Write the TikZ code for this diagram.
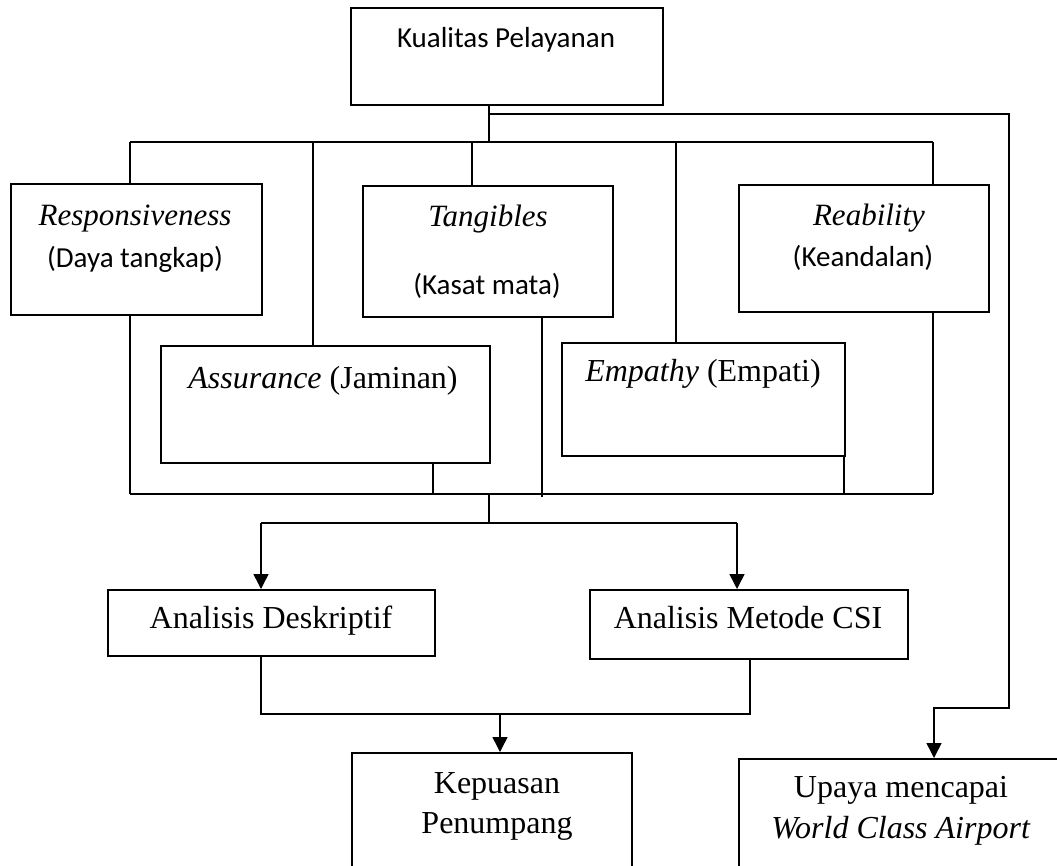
\documentclass[tikz,border=0pt]{standalone}
\usepackage{fontspec}
\setmainfont{Liberation Serif}
\newfontfamily\calibri{Carlito}
\usetikzlibrary{arrows.meta}
\usetikzlibrary{positioning}
\usetikzlibrary{calc}

\begin{document}
\begin{tikzpicture}[x=1pt, y=-1pt,
    box/.style={rectangle, draw, line width=1.5pt, anchor=north west, inner sep=0pt},
    line/.style={line width=1.5pt},
    arrow/.style={line width=1.5pt, -{Triangle[width=15pt,length=15pt]}},
    serif/.style={anchor=base, inner sep=0pt, font=\fontsize{32}{40}\selectfont},
    sans/.style={anchor=base, inner sep=0pt, font=\calibri\fontsize{29}{35}\selectfont},
    isans/.style={anchor=base, inner sep=0pt, font=\fontsize{31}{37}\selectfont\itshape},
    ]
    \useasboundingbox (0,0) rectangle (1057,865);
    \clip (0,0) rectangle (1057,865);

    % Top box
    \node [box, minimum width=312pt, minimum height=97pt] (kp) at (350,7) {};
    \node [sans] (kp-t) at (506,47) {Kualitas Pelayanan};

    % Dimension boxes
    \node [box, minimum width=251pt, minimum height=131pt] (resp) at (10,183) {};
    \node [isans] (resp-a) at (135,225) {Responsiveness};
    \node [sans] (resp-b) at (135,267) {(Daya tangkap)};

    \node [box, minimum width=250pt, minimum height=131pt] (tang) at (362,185) {};
    \node [isans] (tang-a) at (488,226) {Tangibles};
    \node [sans] (tang-b) at (487,294) {(Kasat mata)};

    \node [box, minimum width=250pt, minimum height=127pt] (reab) at (738,184) {};
    \node [isans] (reab-a) at (869,225) {Reability};
    \node [sans] (reab-b) at (863,266) {(Keandalan)};

    \node [box, minimum width=329pt, minimum height=117pt] (assu) at (160,345) {};
    \node [serif] (assu-t) at (323,388) {\textit{Assurance} (Jaminan)};

    \node [box, minimum width=283pt, minimum height=113pt] (emp) at (561,342) {};
    \node [serif] (emp-t) at (703,381) {\textit{Empathy} (Empati)};

    % Analysis boxes
    \node [box, minimum width=327pt, minimum height=66pt] (desk) at (107,589) {};
    \node [serif] (desk-t) at (271,628) {Analisis Deskriptif};

    \node [box, minimum width=318pt, minimum height=69pt] (csi) at (589,589) {};
    \node [serif] (csi-t) at (748,628) {Analisis Metode CSI};

    % Result boxes (cut off at the bottom)
    \node [box, minimum width=280pt, minimum height=160pt] (kep) at (351,752) {};
    \node [serif] (kep-a) at (497,793) {Kepuasan};
    \node [serif] (kep-b) at (497,833) {Penumpang};

    \node [box, minimum width=360pt, minimum height=160pt] (upa) at (738,758) {};
    \node [serif] (upa-a) at (901,797) {Upaya mencapai};
    \node [serif] (upa-b) at (901,838) {\textit{World Class Airport}};

    % Top bus
    \coordinate (hub) at (489,143);
    \coordinate (t1) at (130,142);
    \coordinate (t2) at (313,142);
    \coordinate (t3) at (472,142);
    \coordinate (t4) at (676,142);
    \coordinate (t5) at (933,142);
    \draw [line] (kp.south -| hub) -- (hub);
    \draw [line] (t1) -- (t5);
    \draw [line] (t1) -- (t1 |- resp.north);
    \draw [line] (t2) -- (t2 |- assu.north);
    \draw [line] (t3) -- (t3 |- tang.north);
    \draw [line] (t4) -- (t4 |- emp.north);
    \draw [line] (t5) -- (t5 |- reab.north);

    % Bottom bus
    \coordinate (b1) at (130,494);
    \coordinate (b2) at (433,494);
    \coordinate (b3) at (542,497);
    \coordinate (b4) at (844,494);
    \coordinate (b5) at (933,494);
    \draw [line] (b1) -- (b5);
    \draw [line] (resp.south -| b1) -- (b1);
    \draw [line] (assu.south -| b2) -- (b2);
    \draw [line] (tang.south -| b3) -- (b3);
    \draw [line] (emp.south -| b4) -- (b4);
    \draw [line] (reab.south -| b5) -- (b5);

    % Split to analyses
    \coordinate (hubB) at (489,494);
    \coordinate (split) at (489,523);
    \coordinate (sL) at (261,523);
    \coordinate (sR) at (737,523);
    \draw [line] (hubB) -- (split);
    \draw [line] (sL) -- (sR);
    \draw [arrow] (sL) -- (sL |- desk.north);
    \draw [arrow] (sR) -- (sR |- csi.north);

    % Join to Kepuasan
    \coordinate (jL) at (261,714);
    \coordinate (jR) at (750,714);
    \coordinate (jM) at (500,714);
    \draw [line] (desk.south -| jL) -- (jL) -- (jR) -- (csi.south -| jR);
    \draw [arrow] (jM) -- (jM |- kep.north);

    % Side path to Upaya
    \coordinate (r0) at (489,114);
    \coordinate (r1) at (1009,114);
    \coordinate (r2) at (1009,708);
    \coordinate (r3) at (934,708);
    \draw [arrow] (r0) -- (r1) -- (r2) -- (r3) -- (r3 |- upa.north);

\end{tikzpicture}
\end{document}
